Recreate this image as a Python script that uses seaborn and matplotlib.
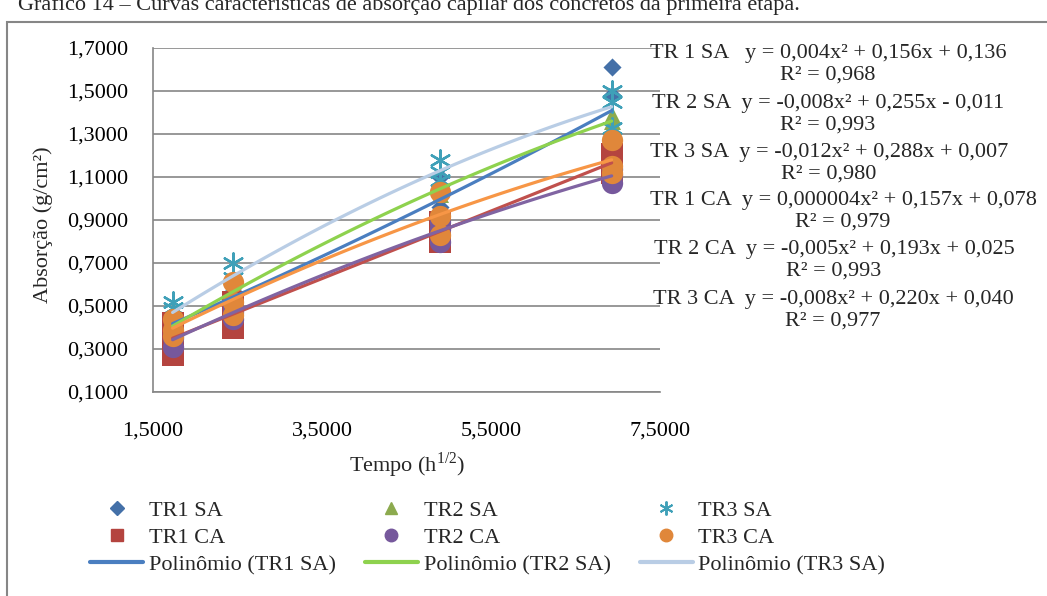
import numpy as np
import pandas as pd
import matplotlib.pyplot as plt
import matplotlib.ticker as mticker
from matplotlib.lines import Line2D
from matplotlib.patches import Rectangle
import seaborn as sns

# ── data ─────────────────────────────────────────────────────────────────────
# tempo (h^1/2) de cada leitura
tempo = [1.732, 2.449, 4.899, 6.928]

# absorção (g/cm²): três corpos de prova por leitura
tr1_sa = [[0.400, 0.420, 0.434], [0.520, 0.540, 0.566], [1.100, 0.960, 0.928], [1.613, 1.480, 1.134]]
tr2_sa = [[0.390, 0.410, 0.421], [0.550, 0.570, 0.578], [1.020, 1.050, 1.068], [1.330, 1.360, 1.390]]
tr3_sa = [[0.520, 0.490, 0.400], [0.700, 0.630, 0.590], [1.180, 1.125, 1.085], [1.500, 1.450, 1.330]]
tr1_ca = [[0.270, 0.360, 0.420], [0.400, 0.470, 0.519], [0.800, 0.850, 0.891], [1.120, 1.170, 1.208]]
tr2_ca = [[0.310, 0.350, 0.372], [0.440, 0.470, 0.494], [0.800, 0.860, 0.893], [1.070, 1.110, 1.135]]
tr3_ca = [[0.360, 0.390, 0.441], [0.460, 0.520, 0.613], [0.830, 0.920, 1.028], [1.120, 1.150, 1.270]]

series_names = ["TR1 SA", "TR2 SA", "TR3 SA", "TR1 CA", "TR2 CA", "TR3 CA"]
series_vals = [tr1_sa, tr2_sa, tr3_sa, tr1_ca, tr2_ca, tr3_ca]

x_ticks = [1.5, 3.5, 5.5, 7.5]
y_ticks = [0.1, 0.3, 0.5, 0.7, 0.9, 1.1, 1.3, 1.5, 1.7]

eq_labels = [
    "TR 1 SA   y = 0,004x² + 0,156x + 0,136\nR² = 0,968",
    "TR 2 SA  y = -0,008x² + 0,255x - 0,011\nR² = 0,993",
    "TR 3 SA  y = -0,012x² + 0,288x + 0,007\nR² = 0,980",
    "TR 1 CA  y = 0,000004x² + 0,157x + 0,078\nR² = 0,979",
    "TR 2 CA  y = -0,005x² + 0,193x + 0,025\nR² = 0,993",
    "TR 3 CA  y = -0,008x² + 0,220x + 0,040\nR² = 0,977",
]

rows = []
for name, vals in zip(series_names, series_vals):
    for t, reps in zip(tempo, vals):
        for v in reps:
            rows.append((name, t, v))
df = pd.DataFrame(rows, columns=["serie", "tempo", "absorcao"])

# ── styles ───────────────────────────────────────────────────────────────────
STAR = (6, 2, 0)
marker_style = {
    "TR1 SA": ("D", "#4470A8", 85),
    "TR2 SA": ("^", "#8CAA4E", 150),
    "TR3 SA": (STAR, "#3FA0B8", 210),
    "TR1 CA": ("s", "#B4443F", 240),
    "TR2 CA": ("o", "#76589C", 235),
    "TR3 CA": ("o", "#E0873A", 235),
}
line_color = {
    "TR1 SA": "#4A7EC0",
    "TR2 SA": "#8ED24E",
    "TR3 SA": "#B9CDE5",
    "TR1 CA": "#C0504D",
    "TR2 CA": "#8064A2",
    "TR3 CA": "#F79646",
}
GRID = "#868686"

sns.set_theme(style="white")
plt.rcParams["font.family"] = ["Liberation Serif", "DejaVu Serif"]
plt.rcParams["font.size"] = 16

W, H = 1047, 596
fig = plt.figure(figsize=(W / 100, H / 100), dpi=100)
ax = fig.add_axes([153 / W, 1 - 392 / H, (660 - 153) / W, (392 - 48) / H])

# markers
for name in series_names:
    mk, c, s = marker_style[name]
    sub = df[df["serie"] == name]
    if mk == STAR:
        sns.scatterplot(data=sub, x="tempo", y="absorcao", marker=mk, color=c,
                        s=s, linewidth=1.7, ax=ax, zorder=3, legend=False)
    else:
        sns.scatterplot(data=sub, x="tempo", y="absorcao", marker=mk, color=c,
                        edgecolor=c, s=s, linewidth=0, ax=ax, zorder=3, legend=False)

# polynomial trendlines (order 2)
for name in series_names:
    sub = df[df["serie"] == name]
    sns.regplot(data=sub, x="tempo", y="absorcao", order=2, ci=None, scatter=False,
                truncate=True, ax=ax,
                line_kws=dict(color=line_color[name], lw=2.3, zorder=4))

ax.set_xlim(x_ticks[0], x_ticks[-1])
ax.set_ylim(y_ticks[0], y_ticks[-1])
ax.set_xticks(x_ticks)
ax.set_yticks(y_ticks)
fmt = mticker.FuncFormatter(lambda v, p: f"{v:.4f}".replace(".", ","))
ax.xaxis.set_major_formatter(fmt)
ax.yaxis.set_major_formatter(fmt)
ax.tick_params(axis="both", length=0, labelsize=16, colors="black")
ax.tick_params(axis="y", pad=18)
ax.tick_params(axis="x", pad=21)
ax.grid(axis="y", color=GRID, lw=1.2)
ax.set_axisbelow(True)
for side in ["top", "right"]:
    ax.spines[side].set_visible(False)
for side in ["left", "bottom"]:
    ax.spines[side].set_color(GRID)
    ax.spines[side].set_linewidth(1.2)

ax.set_xlabel("Tempo (h$^{\\mathregular{1/2}}$)", fontsize=16, va="center")
ax.set_ylabel("Absorção (g/cm²)", fontsize=16, va="center")
ax.xaxis.set_label_coords((407 - 153) / 507, -(465 - 392) / 344)
ax.yaxis.set_label_coords((43 - 153) / 507, (392 - 225) / 344)

# trendline equations
eq_pos = [(828, 64), (828, 114), (829, 163), (843, 211), (834, 260), (833, 310)]
for txt, (px, py) in zip(eq_labels, eq_pos):
    fig.text(px / W, 1 - py / H, txt, ha="center", va="center",
             multialignment="center", fontsize=16, linespacing=1.2, zorder=5)

# legend (first nine entries, row-wise like the original)
handles = {}
for name in series_names:
    mk, c, s = marker_style[name]
    if mk == STAR:
        handles[name] = Line2D([], [], ls="", marker=mk, color=c, markersize=10, mew=1.4)
    else:
        handles[name] = Line2D([], [], ls="", marker=mk, color=c,
                               markersize=9 if mk != "D" else 7)
for name in ["TR1 SA", "TR2 SA", "TR3 SA"]:
    handles["Polinômio (" + name + ")"] = Line2D([], [], color=line_color[name], lw=3)
order = ["TR1 SA", "TR1 CA", "Polinômio (TR1 SA)",
         "TR2 SA", "TR2 CA", "Polinômio (TR2 SA)",
         "TR3 SA", "TR3 CA", "Polinômio (TR3 SA)"]
fig.legend([handles[k] for k in order], order, ncol=3, loc="upper left",
           bbox_to_anchor=(90 / W, 1 - 500 / H), frameon=False, fontsize=16,
           handlelength=2.4, handletextpad=0.25, columnspacing=1.3,
           labelspacing=0.3, borderpad=0, borderaxespad=0)

# caption cut at the top and the chart frame
fig.text(18 / W, 1 - 10 / H,
         "Gráfico 14 – Curvas características de absorção capilar dos concretos da primeira etapa.",
         ha="left", va="baseline", fontsize=16)
fig.patches.append(Rectangle((7 / W, -0.05), 1.1, 1 - 22 / H + 0.05, transform=fig.transFigure,
                             fill=False, edgecolor=GRID, lw=1.5))

fig.savefig("out.png", dpi=100)
